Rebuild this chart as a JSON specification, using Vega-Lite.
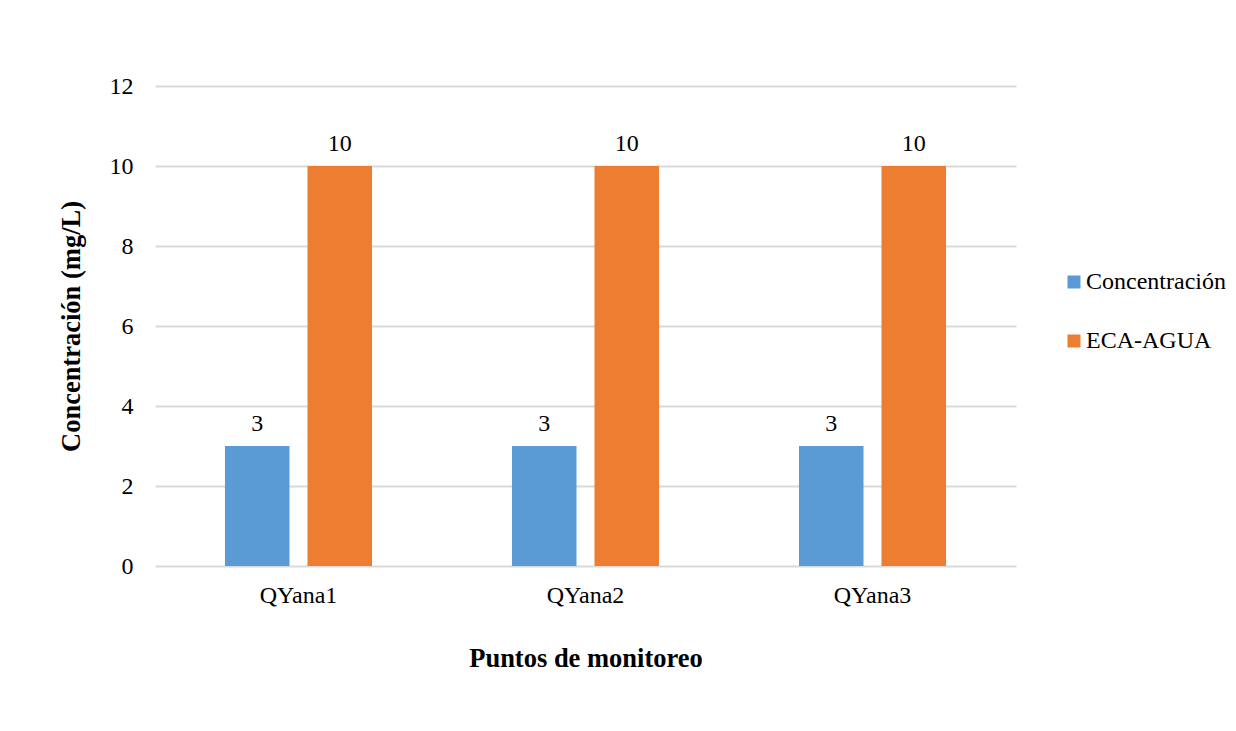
{
  "$schema": "https://vega.github.io/schema/vega-lite/v6.json",
  "width": 861,
  "height": 480,
  "autosize": "none",
  "padding": {"left": 155, "top": 86, "right": 220, "bottom": 165},
  "background": "white",
  "data": {
    "values": [
      {"punto": "QYana1", "serie": "Concentración", "valor": 3},
      {"punto": "QYana1", "serie": "ECA-AGUA", "valor": 10},
      {"punto": "QYana2", "serie": "Concentración", "valor": 3},
      {"punto": "QYana2", "serie": "ECA-AGUA", "valor": 10},
      {"punto": "QYana3", "serie": "Concentración", "valor": 3},
      {"punto": "QYana3", "serie": "ECA-AGUA", "valor": 10}
    ]
  },
  "encoding": {
    "x": {
      "field": "punto",
      "type": "nominal",
      "scale": {"paddingInner": 0, "paddingOuter": 0},
      "axis": {
        "title": "Puntos de monitoreo",
        "labelAngle": 0,
        "labelPadding": 17,
        "titlePadding": 38,
        "domain": false,
        "ticks": false,
        "grid": false
      }
    },
    "xOffset": {
      "field": "serie",
      "type": "nominal",
      "scale": {"paddingInner": 0.218, "paddingOuter": 0.848}
    },
    "y": {
      "field": "valor",
      "type": "quantitative",
      "scale": {"domain": [0, 12], "nice": false},
      "axis": {
        "title": "Concentración (mg/L)",
        "values": [0, 2, 4, 6, 8, 10, 12],
        "labelPadding": 22,
        "titlePadding": 24,
        "domain": false,
        "ticks": false,
        "grid": true
      }
    }
  },
  "layer": [
    {
      "mark": {"type": "bar"},
      "encoding": {
        "color": {
          "field": "serie",
          "type": "nominal",
          "scale": {"domain": ["Concentración", "ECA-AGUA"], "range": ["#5B9BD5", "#ED7D31"]},
          "legend": {
            "title": null,
            "orient": "none",
            "legendX": 907,
            "legendY": 184,
            "symbolType": "square",
            "symbolSize": 169,
            "symbolStrokeWidth": 0,
            "symbolOpacity": 1,
            "labelOffset": 0,
            "rowPadding": 35
          }
        }
      }
    },
    {
      "mark": {"type": "text", "baseline": "alphabetic", "dy": -15, "fontSize": 24, "font": "Liberation Serif", "color": "#000000"},
      "encoding": {
        "text": {"field": "valor", "type": "quantitative"}
      }
    }
  ],
  "config": {
    "font": "Liberation Serif",
    "view": {"stroke": null},
    "axis": {
      "labelFont": "Liberation Serif",
      "labelFontSize": 24,
      "labelColor": "#000000",
      "titleFont": "Liberation Serif",
      "titleFontSize": 26.5,
      "titleFontWeight": "bold",
      "titleColor": "#000000",
      "gridColor": "#D9D9D9",
      "gridWidth": 2
    },
    "legend": {
      "labelFont": "Liberation Serif",
      "labelFontSize": 24,
      "labelColor": "#000000"
    }
  }
}
